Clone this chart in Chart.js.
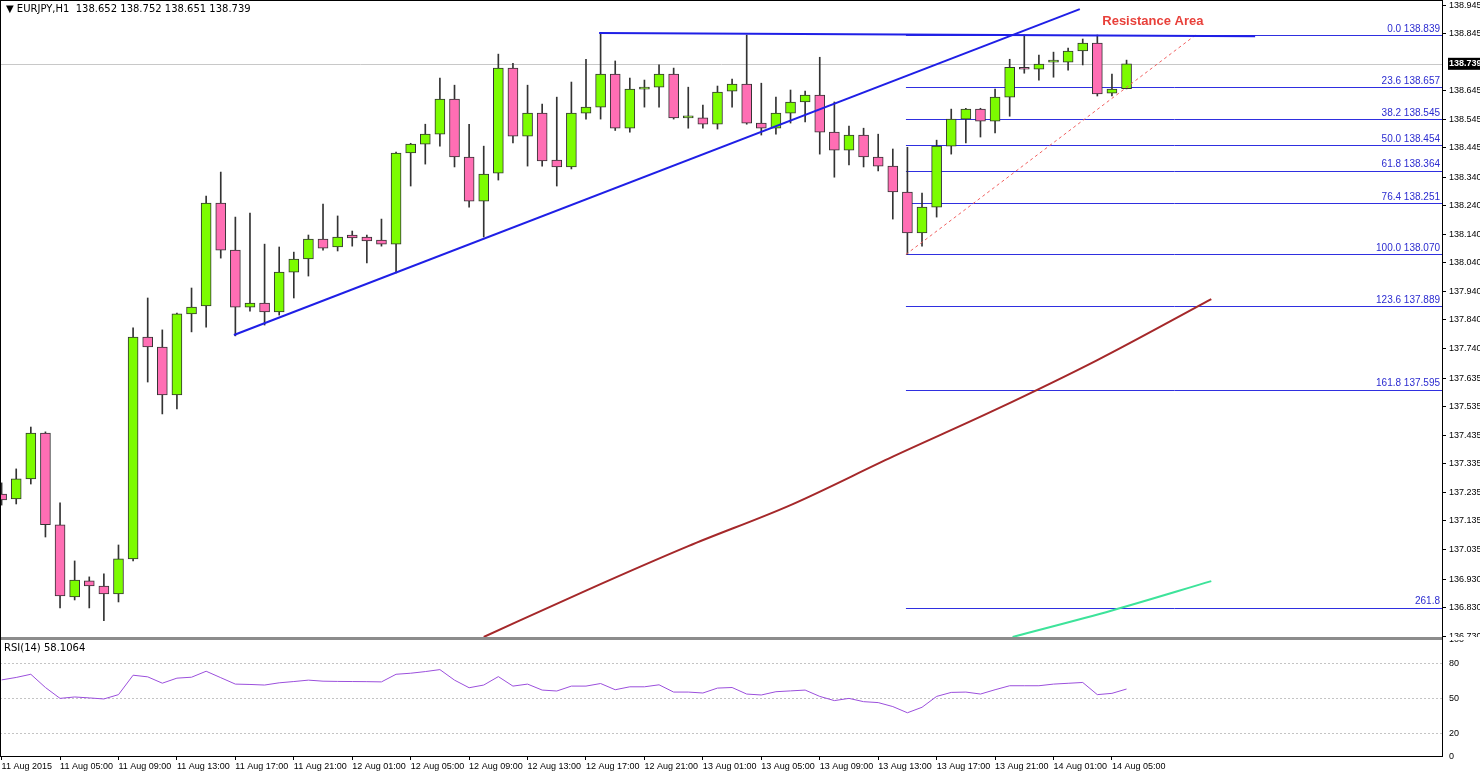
<!DOCTYPE html>
<html>
<head>
<meta charset="utf-8">
<script src="https://cdn.jsdelivr.net/npm/chart.js@4.4.1/dist/chart.umd.min.js"></script>
<style>
html,body{margin:0;padding:0;background:#fff;}
#wrap{position:relative;width:1480px;height:772px;overflow:hidden;font-family:"DejaVu Sans",sans-serif;}
#main{position:absolute;left:0;top:0;width:1480px;height:637px;}
#sep{position:absolute;left:0;top:637px;width:1443px;height:3px;background:#8c8c8c;}
#rsi{position:absolute;left:0;top:640px;width:1480px;height:132px;}
#frameL{position:absolute;left:0;top:0;width:1px;height:757px;background:#000;}
#frameT{position:absolute;left:0;top:0;width:1443px;height:1px;background:#000;}
#frameR{position:absolute;left:1442px;top:0;width:1px;height:757px;background:#000;}
#frameB{position:absolute;left:0;top:756px;width:1443px;height:1px;background:#000;}
#hdr{position:absolute;left:6px;top:3px;font-size:10px;color:#000;}
#rsiHdr{position:absolute;left:4px;top:642px;font-size:10px;color:#000;}
</style>
</head>
<body>
<div id="wrap">
  <div id="main"><canvas id="cMain"></canvas></div>
  <div id="rsi"><canvas id="cRsi"></canvas></div>
  <div id="sep"></div>
  <div id="frameL"></div><div id="frameT"></div><div id="frameR"></div><div id="frameB"></div>
  <div id="hdr">&#9660; EURJPY,H1&nbsp; 138.652 138.752 138.651 138.739</div>
  <div id="rsiHdr">RSI(14) 58.1064</div>
</div>
<script>
// EURJPY H1, 11 Aug 01:00 .. 14 Aug 06:00
const opens=[137.229,137.212,137.282,137.443,137.121,136.868,136.924,136.906,136.878,137.001,137.780,137.745,137.577,137.861,137.889,138.250,138.085,137.885,137.899,137.868,138.008,138.054,138.124,138.096,138.138,138.131,138.120,138.106,138.426,138.457,138.492,138.615,138.412,138.257,138.355,138.724,138.485,138.566,138.401,138.377,138.566,138.587,138.703,138.513,138.650,138.657,138.703,138.549,138.549,138.527,138.643,138.668,138.531,138.513,138.566,138.605,138.629,138.499,138.436,138.489,138.412,138.380,138.289,138.145,138.236,138.450,138.545,138.580,138.538,138.622,138.727,138.720,138.745,138.745,138.784,138.812,138.636,138.652];
const highs=[137.268,137.317,137.464,137.447,137.198,136.994,136.938,136.949,137.050,137.812,137.917,137.805,137.864,137.952,138.275,138.359,138.201,138.215,138.106,138.096,138.078,138.138,138.247,138.205,138.152,138.138,138.194,138.429,138.460,138.527,138.689,138.664,138.527,138.450,138.773,138.741,138.664,138.598,138.622,138.675,138.755,138.847,138.749,138.689,138.682,138.735,138.724,138.657,138.594,138.661,138.685,138.840,138.671,138.622,138.647,138.643,138.762,138.605,138.520,138.513,138.492,138.440,138.446,138.285,138.471,138.580,138.583,138.583,138.650,138.755,138.840,138.770,138.780,138.794,138.826,138.840,138.703,138.752];
const lows=[137.190,137.194,137.264,137.078,136.829,136.857,136.829,136.784,136.850,136.994,137.622,137.510,137.528,137.798,137.815,138.057,137.784,137.871,137.822,137.857,137.917,137.994,138.085,138.082,138.099,138.040,138.099,138.005,138.310,138.387,138.450,138.377,138.236,138.131,138.331,138.461,138.380,138.380,138.310,138.370,138.545,138.545,138.505,138.499,138.587,138.587,138.545,138.513,138.513,138.510,138.587,138.527,138.489,138.492,138.531,138.535,138.422,138.341,138.384,138.377,138.363,138.194,138.070,138.099,138.201,138.422,138.461,138.482,138.496,138.555,138.706,138.682,138.692,138.717,138.735,138.626,138.626,138.651];
const closes=[137.208,137.282,137.443,137.121,136.871,136.927,136.906,136.878,137.001,137.780,137.745,137.577,137.861,137.885,138.250,138.085,137.885,137.899,137.868,138.008,138.054,138.124,138.092,138.131,138.128,138.117,138.106,138.426,138.457,138.492,138.615,138.412,138.257,138.352,138.724,138.485,138.566,138.398,138.377,138.566,138.587,138.703,138.513,138.650,138.657,138.703,138.549,138.552,138.527,138.640,138.668,138.531,138.513,138.566,138.605,138.629,138.499,138.436,138.489,138.412,138.380,138.289,138.145,138.236,138.450,138.545,138.580,138.538,138.622,138.727,138.720,138.738,138.746,138.784,138.812,138.633,138.650,138.739];
const rsiVals=[65.9,68,70.7,59.4,50.1,51.3,50.5,49.6,53.3,69.9,68.5,63.1,67.4,68.2,73.3,67.8,62.3,62,61.5,63.4,64.5,65.7,64.8,64.6,64.5,64.4,64.2,70.7,71.6,73,74.7,65.7,59.2,61.5,68.7,60.6,62.3,57.2,56.4,60.6,60.6,62.8,57.5,60,60,61.7,55.5,55.5,54.7,58.9,59.4,53.8,53,55.8,56.5,57.2,51.8,48.2,50.1,47.3,46.5,43.1,37.8,42.5,51.8,55.2,55.5,53.8,57.5,60.9,60.9,60.9,62.3,63,63.7,53.3,54.4,58.1];
const xLabels=['11 Aug 2015','11 Aug 05:00','11 Aug 09:00','11 Aug 13:00','11 Aug 17:00','11 Aug 21:00','12 Aug 01:00','12 Aug 05:00','12 Aug 09:00','12 Aug 13:00','12 Aug 17:00','12 Aug 21:00','13 Aug 01:00','13 Aug 05:00','13 Aug 09:00','13 Aug 13:00','13 Aug 17:00','13 Aug 21:00','14 Aug 01:00','14 Aug 05:00'];
const priceTicks=[138.945,138.845,138.645,138.545,138.445,138.340,138.240,138.140,138.040,137.940,137.840,137.740,137.635,137.535,137.435,137.335,137.235,137.135,137.035,136.930,136.830,136.730];
const rsiTicks=[100,80,50,20,0];
const fibLevels=[138.839,138.657,138.545,138.454,138.364,138.251,138.070,137.889,137.595,136.830];
const fibNames=['0.0 138.839','23.6 138.657','38.2 138.545','50.0 138.454','61.8 138.364','76.4 138.251','100.0 138.070','123.6 137.889','161.8 137.595','261.8'];
const fibStart=61.9;
// overlay lines as [bar index, price]
const maSlow=[[33,136.727],[40,136.89],[47,137.046],[54,137.19],[61,137.36],[68,137.524],[75,137.699],[82.8,137.913]];
const maFast=[[69.2,136.727],[76,136.82],[82.8,136.923]];
const trendUp=[[15.9,137.787],[73.8,138.931]];
const topLine=[[40.9,138.847],[85.8,138.836]];
const fibDash=[[61.9,138.070],[81.7,138.839]];
const lastPrice=138.739;
const xMin=-0.11, xMax=98.66;

const pts=a=>a.map(p=>({x:p[0],y:p[1]}));
const up=opens.map((o,i)=>closes[i]>=o);

const FONT='"Liberation Sans", Arial, sans-serif';

function fixPad(s){s.paddingTop=0;s.paddingBottom=0;s.paddingLeft=0;s.paddingRight=0;}

const lineDs=(data,color,width,extra)=>Object.assign({type:'line',data:pts(data),borderColor:color,borderWidth:width,pointRadius:0,fill:false,order:1},extra||{});

const fibLinesPlugin={
  id:'fib',
  beforeDatasetsDraw(chart){
    const {ctx,scales:{x,y}}=chart;
    ctx.save();
    ctx.strokeStyle='#2f2fe0';ctx.lineWidth=1;
    fibLevels.forEach(v=>{
      const py=Math.round(y.getPixelForValue(v))+0.5;
      ctx.beginPath();ctx.moveTo(x.getPixelForValue(fibStart),py);ctx.lineTo(x.right,py);ctx.stroke();
    });
    ctx.strokeStyle='#c8c8c8';
    const ly=Math.round(y.getPixelForValue(lastPrice))+0.5;
    ctx.beginPath();ctx.moveTo(x.left,ly);ctx.lineTo(x.right,ly);ctx.stroke();
    ctx.restore();
  },
  afterDraw(chart){
    const {ctx,scales:{x,y}}=chart;
    ctx.save();
    ctx.font='10px '+FONT;ctx.fillStyle='#2b2bd0';ctx.textAlign='right';ctx.textBaseline='bottom';
    fibLevels.forEach((v,i)=>ctx.fillText(fibNames[i],x.right-3,y.getPixelForValue(v)-1));
    ctx.font='bold 13px '+FONT;ctx.fillStyle='#e8403a';ctx.textAlign='center';ctx.textBaseline='middle';
    ctx.fillText('Resistance Area',x.getPixelForValue(78.8),y.getPixelForValue(138.889));
    const py=y.getPixelForValue(lastPrice);
    ctx.fillStyle='#000';ctx.fillRect(x.right+5,py-6,32,12);
    ctx.fillStyle='#fff';ctx.font='bold 9px '+FONT;ctx.textAlign='left';
    ctx.fillText(lastPrice.toFixed(3),x.right+6,py);
    ctx.restore();
  }
};

new Chart(document.getElementById('cMain'),{
  type:'bar',
  data:{datasets:[
    {label:'body',data:opens.map((o,i)=>({x:i,y:[o,closes[i]]})),backgroundColor:up.map(u=>u?'#7cfc00':'#ff6eb4'),borderColor:'#333',borderWidth:1,borderSkipped:false,barThickness:10,grouped:false,minBarLength:2,order:2},
    {label:'wick',data:lows.map((l,i)=>({x:i,y:[l,highs[i]]})),backgroundColor:'#333',borderWidth:0,barThickness:1,grouped:false,order:3},
    lineDs(maSlow,'#a5282a',2,{cubicInterpolationMode:'monotone'}),
    lineDs(maFast,'#3de39a',2,{cubicInterpolationMode:'monotone'}),
    lineDs(trendUp,'#1f1fe6',2),
    lineDs(topLine,'#1f1fe6',2),
    lineDs(fibDash,'#f06060',1,{borderDash:[3,3]})
  ]},
  options:{
    responsive:true,maintainAspectRatio:false,animation:false,
    layout:{padding:0},
    plugins:{legend:{display:false},tooltip:{enabled:false}},
    scales:{
      x:{type:'linear',offset:false,min:xMin,max:xMax,display:false,afterFit:fixPad},
      y:{position:'right',min:136.727,max:138.963,
        afterBuildTicks:s=>{s.ticks=priceTicks.map(v=>({value:v}));},
        afterFit:s=>{s.width=1480-1443;fixPad(s);},
        border:{display:false},
        grid:{drawOnChartArea:false,drawTicks:true,tickLength:3,color:'#000'},
        ticks:{color:'#000',padding:3,font:{size:9,family:FONT},callback:v=>v.toFixed(3)}}
    }
  },
  plugins:[fibLinesPlugin]
});

new Chart(document.getElementById('cRsi'),{
  type:'line',
  data:{datasets:[{data:rsiVals.map((v,i)=>({x:i,y:v})),borderColor:'#9b4fdc',borderWidth:1,pointRadius:0,fill:false}]},
  options:{
    responsive:true,maintainAspectRatio:false,animation:false,
    layout:{padding:0},
    plugins:{legend:{display:false},tooltip:{enabled:false}},
    scales:{
      x:{type:'linear',offset:false,position:'bottom',min:xMin,max:xMax,
        afterBuildTicks:s=>{s.ticks=xLabels.map((_,k)=>({value:k*4}));},
        afterFit:s=>{s.height=15;fixPad(s);},
        border:{display:false},
        grid:{drawOnChartArea:false,drawTicks:true,tickLength:3,color:'#000'},
        ticks:{color:'#000',padding:1,maxRotation:0,autoSkip:false,align:'start',font:{size:9,family:FONT},callback:v=>xLabels[Math.round(v/4)]}},
      y:{position:'right',min:0,max:100,
        afterBuildTicks:s=>{s.ticks=rsiTicks.map(v=>({value:v}));},
        afterFit:s=>{s.width=1480-1443;fixPad(s);},
        border:{display:false,dash:[2,2]},
        grid:{drawTicks:false,color:c=>(c.tick&&(c.tick.value===0||c.tick.value===100))?'rgba(0,0,0,0)':'#c4c4c4'},
        ticks:{color:'#000',padding:6,font:{size:9,family:FONT}}}
    }
  }
});
</script>
</body>
</html>
